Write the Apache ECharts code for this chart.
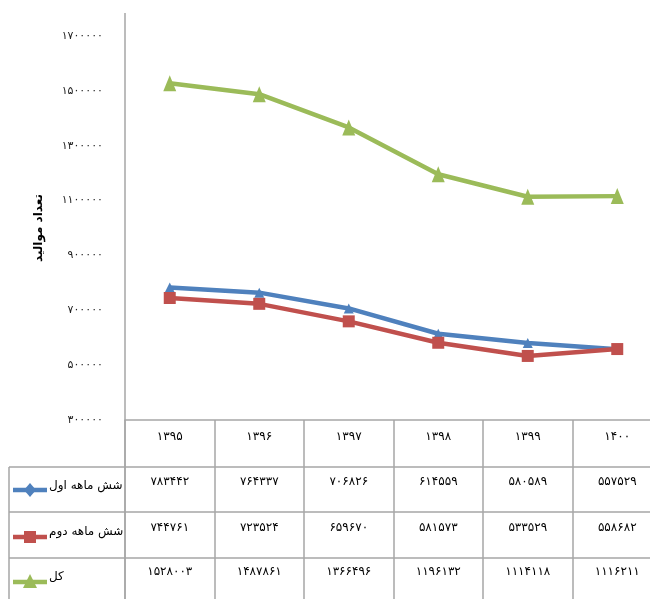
<!DOCTYPE html>
<html>
<head>
<meta charset="utf-8">
<script src="https://cdn.jsdelivr.net/npm/echarts@6/dist/echarts.min.js"></script>
<style>
  html, body { margin: 0; padding: 0; background: #fff; }
  #chart { width: 650px; height: 599px; }
</style>
</head>
<body>
<div id="chart"></div>
<script>
var years = ['1395', '1396', '1397', '1398', '1399', '1400'];
var firstHalf = [783442, 764337, 706826, 614559, 580589, 557529];
var secondHalf = [744761, 723524, 659670, 581573, 533529, 558682];
var total = [1528003, 1487861, 1366496, 1196132, 1114118, 1116211];
var seriesNames = ['شش ماهه اول', 'شش ماهه دوم', 'کل'];
var colors = ['#4F81BD', '#C0504D', '#9BBB59'];

var FONT = 'DejaVu Sans';
var GRID = '#a6a6a6';

// latin digits -> persian digits
function toFa(v) {
  return String(v).replace(/\d/g, function (d) { return '۰۱۲۳۴۵۶۷۸۹'[d]; });
}

var chart = echarts.init(document.getElementById('chart'));

var option = {
  animation: false,
  grid: { left: 125, top: 36, width: 537, height: 384, outerBoundsMode: 'none', containLabel: false },
  xAxis: {
    type: 'category',
    data: years,
    boundaryGap: true,
    axisLine: { lineStyle: { color: GRID, width: 1.5 } },
    axisTick: { show: true, length: 180, lineStyle: { color: GRID, width: 1.5 } },
    axisLabel: {
      margin: 11,
      formatter: toFa,
      color: '#000',
      fontFamily: FONT,
      fontSize: 12
    }
  },
  yAxis: {
    type: 'value',
    min: 300000,
    max: 1700000,
    interval: 200000,
    name: 'تعداد موالید',
    nameLocation: 'middle',
    nameGap: 80,
    nameTextStyle: { color: '#000', fontFamily: FONT, fontSize: 12, fontWeight: 'bold' },
    axisLine: { show: false },
    axisTick: { show: false },
    splitLine: { show: false },
    axisLabel: {
      margin: 22,
      formatter: toFa,
      color: '#222',
      fontFamily: FONT,
      fontSize: 11
    }
  },
  series: [
    {
      name: seriesNames[0], type: 'line', data: firstHalf,
      symbol: 'triangle', symbolSize: 10,
      lineStyle: { color: colors[0], width: 4.5 },
      itemStyle: { color: colors[0] }
    },
    {
      name: seriesNames[1], type: 'line', data: secondHalf,
      symbol: 'rect', symbolSize: 12,
      lineStyle: { color: colors[1], width: 4.5 },
      itemStyle: { color: colors[1] }
    },
    {
      name: seriesNames[2], type: 'line', data: total,
      symbol: 'triangle', symbolSize: [13, 16],
      lineStyle: { color: colors[2], width: 4.5 },
      itemStyle: { color: colors[2] }
    }
  ]
};
chart.setOption(option);

// data table under the axis
var rows = [firstHalf, secondHalf, total];
var rowTextY = [482, 528, 572];
var rowLabelY = [486, 532, 577];
var keyY = [490, 537, 582];
var g = [];

g.push({ type: 'line', shape: { x1: 125, y1: 13, x2: 125, y2: 599 }, style: { stroke: GRID, lineWidth: 1.5 } });
g.push({ type: 'line', shape: { x1: 9, y1: 467, x2: 9, y2: 599 }, style: { stroke: GRID, lineWidth: 1.5 } });
[467, 512, 558].forEach(function (y) {
  g.push({ type: 'line', shape: { x1: 9, y1: y, x2: 650, y2: y }, style: { stroke: GRID, lineWidth: 1.5 } });
});

rows.forEach(function (vals, r) {
  vals.forEach(function (v, i) {
    var x = chart.convertToPixel({ xAxisIndex: 0 }, years[i]);
    g.push({
      type: 'text', x: x, y: rowTextY[r],
      style: { text: toFa(v), fill: '#000', font: '12px "' + FONT + '"', align: 'center', verticalAlign: 'middle' }
    });
  });
  g.push({
    type: 'text', x: 49, y: rowLabelY[r],
    style: { text: seriesNames[r], fill: '#000', font: '12px "' + FONT + '"', align: 'left', verticalAlign: 'middle' }
  });
  g.push({ type: 'line', shape: { x1: 13, y1: keyY[r], x2: 47, y2: keyY[r] }, style: { stroke: colors[r], lineWidth: 4.5 } });
});

// legend keys: blue diamond, red square, green triangle
var ky = keyY;
g.push({ type: 'polygon', shape: { points: [[30, ky[0] - 7], [36, ky[0]], [30, ky[0] + 7], [24, ky[0]]] }, style: { fill: colors[0] } });
g.push({ type: 'rect', shape: { x: 24, y: ky[1] - 6, width: 12, height: 12 }, style: { fill: colors[1] } });
g.push({ type: 'polygon', shape: { points: [[30, ky[2] - 8], [37, ky[2] + 6], [23, ky[2] + 6]] }, style: { fill: colors[2] } });

chart.setOption({ graphic: g });
</script>
</body>
</html>
